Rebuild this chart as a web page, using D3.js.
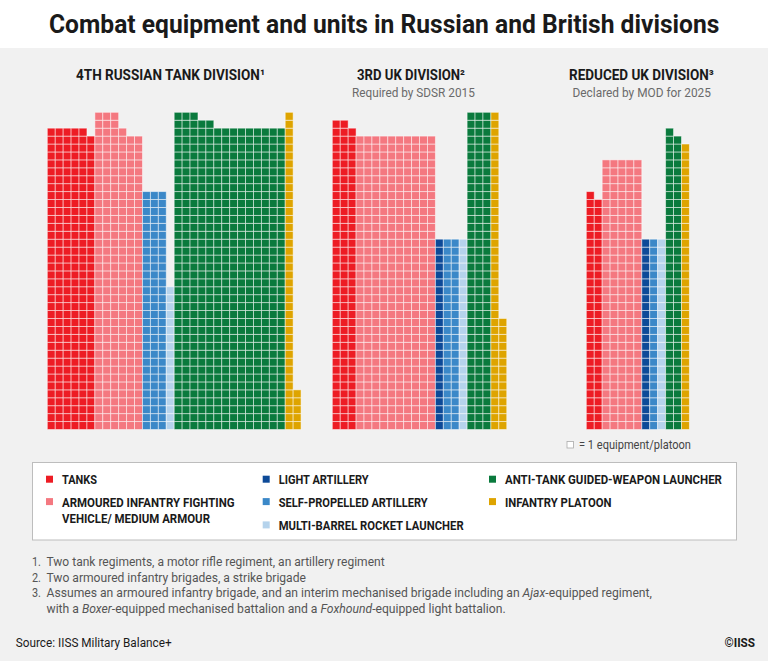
<!DOCTYPE html>
<html>
<head>
<meta charset="utf-8">
<script src="https://cdn.jsdelivr.net/npm/d3@7"></script>
<style>
  html, body { margin: 0; padding: 0; background: #fff; }
  svg { display: block; }
  .cond { font-family: "Roboto", "Liberation Sans", "DejaVu Sans", sans-serif; }
</style>
</head>
<body>
<svg id="chart" width="768" height="661"></svg>
<script>
// ---------------- DATA ----------------
const categories = [
  "TANKS",
  "ARMOURED INFANTRY FIGHTING VEHICLE/ MEDIUM ARMOUR",
  "LIGHT ARTILLERY",
  "SELF-PROPELLED ARTILLERY",
  "MULTI-BARREL ROCKET LAUNCHER",
  "ANTI-TANK GUIDED-WEAPON LAUNCHER",
  "INFANTRY PLATOON"
];
const colors = ["#ed1c24", "#f47880", "#0d4a98", "#3b88c8", "#b5d3ec", "#0a7a3d", "#dea400"];

const divisionTitles = ["4TH RUSSIAN TANK DIVISION\u00B9", "3RD UK DIVISION\u00B2", "REDUCED UK DIVISION\u00B3"];
const divisionSubtitles = ["", "Required by SDSR 2015", "Declared by MOD for 2025"];

// cells per column, for each category (one entry per column of squares)
const russianTanks    = [38, 38, 38, 38, 38, 37];
const russianIFV      = [40, 40, 40, 38, 37, 37];
const russianLightArt = [];
const russianSPArt    = [30, 30, 30];
const russianMBRL     = [18];
const russianATGW     = [40, 40, 40, 39, 39, 38, 38, 38, 38, 38, 38, 38, 38, 38];
const russianInfPlt   = [40, 5];

const ukTanks    = [39, 39, 38];
const ukIFV      = [37, 37, 37, 37, 37, 37, 37, 37, 37, 37];
const ukLightArt = [24];
const ukSPArt    = [24, 24];
const ukMBRL     = [24];
const ukATGW     = [40, 40, 40];
const ukInfPlt   = [40, 14];

const redTanks    = [30, 29];
const redIFV      = [34, 34, 34, 34, 34];
const redLightArt = [24];
const redSPArt    = [24];
const redMBRL     = [24];
const redATGW     = [38, 37];
const redInfPlt   = [36];

const footnotes = [
  [{t: "Two tank regiments, a motor rifle regiment, an artillery regiment"}],
  [{t: "Two armoured infantry brigades, a strike brigade"}],
  [{t: "Assumes an armoured infantry brigade, and an interim mechanised brigade including an "}, {t: "Ajax", i: true}, {t: "-equipped regiment,"}],
  [{t: "with a "}, {t: "Boxer", i: true}, {t: "-equipped mechanised battalion and a "}, {t: "Foxhound", i: true}, {t: "-equipped light battalion."}]
];

// ---------------- LAYOUT ----------------
const W = 768, H = 661;
const svg = d3.select("#chart");
const pitch = 7.93;
const baseline = 429.5;
const maxRows = 40;

// place a text at (x, y) and squeeze it horizontally to a given width
function fitText(sel, x, y, width, anchor) {
  const node = sel.node();
  const natural = node.getComputedTextLength();
  const k = width && natural > 0 ? width / natural : 1;
  sel.attr("x", 0).attr("y", 0).attr("text-anchor", anchor || "start")
     .attr("transform", `translate(${x},${y}) scale(${k},1)`);
  return sel;
}

svg.append("rect").attr("x", 0).attr("y", 0).attr("width", W).attr("height", H).attr("fill", "#ffffff");
svg.append("rect").attr("x", 0).attr("y", 48).attr("width", W).attr("height", H - 48).attr("fill", "#f1f1f1");

fitText(svg.append("text").attr("class", "cond")
  .attr("font-size", 25).attr("font-weight", "bold").attr("fill", "#1a1a1a")
  .text("Combat equipment and units in Russian and British divisions"), 49, 33, 671);

const divisions = [
  {x0: 47.3, title: [76, 189], sub: null, data: [russianTanks, russianIFV, russianLightArt, russianSPArt, russianMBRL, russianATGW, russianInfPlt]},
  {x0: 332.3, title: [357, 108], sub: [352, 123], data: [ukTanks, ukIFV, ukLightArt, ukSPArt, ukMBRL, ukATGW, ukInfPlt]},
  {x0: 586.3, title: [569, 145], sub: [572.5, 138.5], data: [redTanks, redIFV, redLightArt, redSPArt, redMBRL, redATGW, redInfPlt]}
];

const y = d3.scaleLinear().domain([0, maxRows]).range([baseline, baseline - maxRows * pitch]);

divisions.forEach((div, di) => {
  const cols = [];
  div.data.forEach((arr, ci) => arr.forEach(h => cols.push({cat: ci, h})));
  const x = d3.scaleBand().domain(d3.range(cols.length))
    .range([div.x0, div.x0 + cols.length * pitch]).padding(0);

  const cells = [];
  cols.forEach((c, i) => { for (let r = 0; r < c.h; r++) cells.push({col: i, row: r, cat: c.cat}); });

  svg.append("g").selectAll("rect").data(cells).join("rect")
    .attr("x", d => x(d.col))
    .attr("y", d => y(d.row + 1))
    .attr("width", x.bandwidth())
    .attr("height", y(0) - y(1))
    .attr("fill", d => colors[d.cat])
    .attr("stroke", "rgba(255,255,255,0.55)")
    .attr("stroke-width", 0.9);

  fitText(svg.append("text").attr("class", "cond")
    .attr("font-size", 14.5).attr("font-weight", "bold").attr("fill", "#1a1a1a")
    .text(divisionTitles[di]), div.title[0], 80, div.title[1]);
  if (div.sub) {
    fitText(svg.append("text").attr("class", "cond")
      .attr("font-size", 12.5).attr("fill", "#6a6a6a")
      .text(divisionSubtitles[di]), div.sub[0], 97, div.sub[1]);
  }
});

// key for unit square
svg.append("rect").attr("x", 567).attr("y", 441.5).attr("width", 6.5).attr("height", 6.5)
  .attr("fill", "#fff").attr("stroke", "#aaa").attr("stroke-width", 0.8);
fitText(svg.append("text").attr("class", "cond")
  .attr("font-size", 12.5).attr("fill", "#444")
  .text("= 1 equipment/platoon"), 579, 449, 112);

// legend box
svg.append("rect").attr("x", 32.5).attr("y", 462.5).attr("width", 704).attr("height", 77.5)
  .attr("fill", "#fff").attr("stroke", "#bdbdbd").attr("stroke-width", 1);

const legendItems = [
  {cat: 0, x: 46, y: 484.3, lines: ["TANKS"], w: [35]},
  {cat: 1, x: 46, y: 506.7, lines: ["ARMOURED INFANTRY FIGHTING", "VEHICLE/ MEDIUM ARMOUR"], w: [172.7, 148]},
  {cat: 2, x: 262.7, y: 484.3, lines: ["LIGHT ARTILLERY"], w: [90]},
  {cat: 3, x: 262.7, y: 506.7, lines: ["SELF-PROPELLED ARTILLERY"], w: [149]},
  {cat: 4, x: 262.7, y: 530, lines: ["MULTI-BARREL ROCKET LAUNCHER"], w: [185]},
  {cat: 5, x: 489, y: 484.3, lines: ["ANTI-TANK GUIDED-WEAPON LAUNCHER"], w: [217.3]},
  {cat: 6, x: 489, y: 506.7, lines: ["INFANTRY PLATOON"], w: [106.6]}
];
legendItems.forEach(it => {
  svg.append("rect").attr("x", it.x).attr("y", it.y - 8.6).attr("width", 7).attr("height", 7)
    .attr("fill", colors[it.cat]);
  it.lines.forEach((ln, li) => {
    fitText(svg.append("text").attr("class", "cond")
      .attr("font-size", 12.3).attr("font-weight", "bold").attr("fill", "#1a1a1a")
      .text(ln), it.x + 16, it.y + li * 16, it.w[li]);
  });
});

// footnotes
const fnY = [566, 581.7, 597.4, 613];
const fnNum = ["1.", "2.", "3.", ""];
const fnW = [338.5, 259.7, 605.5, 459.7];
footnotes.forEach((parts, i) => {
  if (fnNum[i]) {
    fitText(svg.append("text").attr("class", "cond")
      .attr("font-size", 12.8).attr("fill", "#555").text(fnNum[i]), 32, fnY[i], 9);
  }
  const t = svg.append("text").attr("class", "cond")
    .attr("font-size", 12.8).attr("fill", "#555");
  parts.forEach(p => t.append("tspan").attr("font-style", p.i ? "italic" : "normal").text(p.t));
  fitText(t, 46.5, fnY[i], fnW[i]);
});

fitText(svg.append("text").attr("class", "cond")
  .attr("font-size", 12.8).attr("fill", "#1a1a1a").text("Source: IISS Military Balance+"), 15.7, 647, 156);
fitText(svg.append("text").attr("class", "cond")
  .attr("font-size", 12.8).attr("font-weight", "bold").attr("fill", "#1a1a1a").text("\u00A9IISS"), 724.5, 647, 30.5);
</script>
</body>
</html>
